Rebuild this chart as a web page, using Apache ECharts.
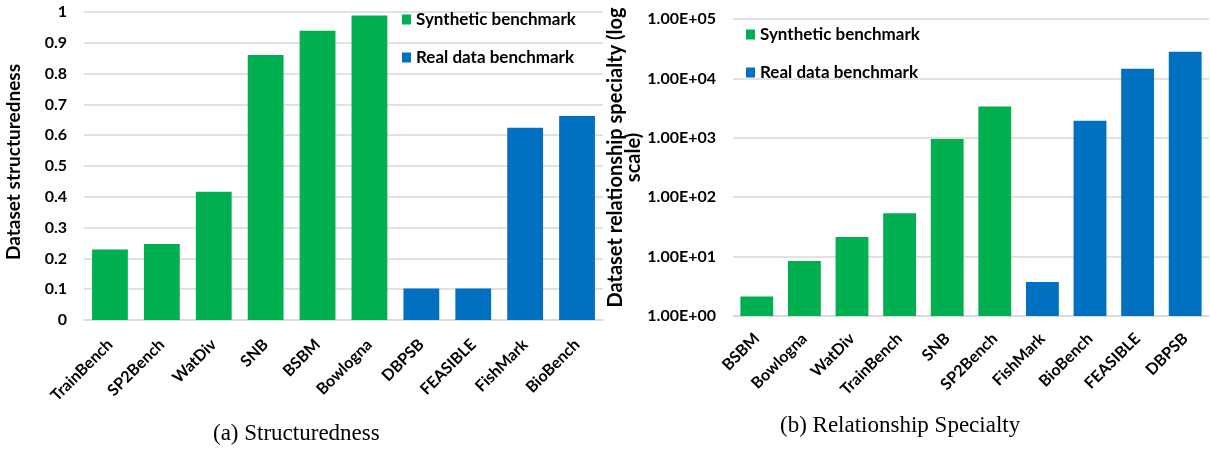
<!DOCTYPE html>
<html>
<head>
<meta charset="utf-8">
<script src="https://cdn.jsdelivr.net/npm/echarts@6/dist/echarts.min.js"></script>
<style>
html,body{margin:0;padding:0;background:#fff;}
#chart{width:1210px;height:450px;}
</style>
</head>
<body>
<div id="chart"></div>
<script>
// ---- Data ----
const seriesNames = ['Synthetic benchmark', 'Real data benchmark'];

const structCategories = ['TrainBench', 'SP2Bench', 'WatDiv', 'SNB', 'BSBM', 'Bowlogna', 'DBPSB', 'FEASIBLE', 'FishMark', 'BioBench'];
const structValues = [0.229, 0.247, 0.416, 0.86, 0.939, 0.989, 0.102, 0.102, 0.624, 0.662];
const structKinds = [0, 0, 0, 0, 0, 0, 1, 1, 1, 1];

const specCategories = ['BSBM', 'Bowlogna', 'WatDiv', 'TrainBench', 'SNB', 'SP2Bench', 'FishMark', 'BioBench', 'FEASIBLE', 'DBPSB'];
const specValues = [2.12, 8.45, 21.4, 53.7, 950, 3375, 3.74, 1935, 14550, 28150];
const specKinds = [0, 0, 0, 0, 0, 0, 1, 1, 1, 1];

const structTicks = [0, 0.1, 0.2, 0.3, 0.4, 0.5, 0.6, 0.7, 0.8, 0.9, 1];
const specTicks = ['1.00E+00', '1.00E+01', '1.00E+02', '1.00E+03', '1.00E+04', '1.00E+05'];

const captions = ['(a) Structuredness', '(b) Relationship Specialty'];

// ---- Styles ----
const colors = ['#00B050', '#0070C0'];
const FONT = 'Lato, "Open Sans", sans-serif';
const gridColor = '#D9D9D9';

function split(values, kinds, k) {
  return values.map((v, i) => kinds[i] === k ? v : '-');
}

function makeSeries(values, kinds, axisIndex) {
  return seriesNames.map((name, k) => ({
    name: name,
    type: 'bar',
    xAxisIndex: axisIndex,
    yAxisIndex: axisIndex,
    data: split(values, kinds, k),
    barGap: '-100%',
    barCategoryGap: '31%',
    itemStyle: { color: colors[k] },
    emphasis: { disabled: true }
  }));
}

function xAxisFor(gridIndex, data, margin) {
  return {
    gridIndex: gridIndex,
    type: 'category',
    data: data,
    axisLine: { show: true, lineStyle: { color: gridColor, width: 1.5 } },
    axisTick: { show: false },
    axisLabel: { rotate: 45, fontFamily: FONT, fontWeight: 'bold', fontSize: 16, color: '#000', margin: margin, interval: 0 }
  };
}

const legendBase = {
  orient: 'vertical',
  itemWidth: 9,
  itemHeight: 10,
  itemGap: 21,
  icon: 'rect',
  selectedMode: false,
  textStyle: { fontFamily: FONT, fontWeight: 'bold', fontSize: 17, color: '#000' },
  data: seriesNames
};

const option = {
  animation: false,
  backgroundColor: '#fff',
  grid: [
    { left: 84, right: 607, top: 12, bottom: 130, containLabel: false },
    { left: 733, right: 1, top: 19, bottom: 134, containLabel: false }
  ],
  legend: [
    Object.assign({}, legendBase, { left: 397, top: 6 }),
    Object.assign({}, legendBase, { left: 741, top: 21 })
  ],
  xAxis: [
    xAxisFor(0, structCategories, 22),
    xAxisFor(1, specCategories, 20)
  ],
  yAxis: [
    {
      gridIndex: 0,
      type: 'value',
      min: structTicks[0],
      max: structTicks[structTicks.length - 1],
      interval: 0.1,
      axisLine: { show: false },
      axisTick: { show: false },
      splitLine: { lineStyle: { color: gridColor, width: 1.5 } },
      axisLabel: {
        fontFamily: FONT, fontWeight: 'bold', fontSize: 16, color: '#000', margin: 17,
        formatter: v => String(Math.round(v * 10) / 10)
      },
      name: 'Dataset structuredness',
      nameLocation: 'middle',
      nameRotate: 90,
      nameGap: 61,
      nameTextStyle: { fontFamily: FONT, fontWeight: 'bold', fontSize: 19, color: '#000', padding: [0, 0, 0, 8] }
    },
    {
      gridIndex: 1,
      type: 'log',
      logBase: 10,
      min: 1,
      max: 100000,
      axisLine: { show: false },
      axisTick: { show: false },
      minorSplitLine: { show: false },
      splitLine: { lineStyle: { color: gridColor, width: 1.5 } },
      axisLabel: {
        fontFamily: FONT, fontWeight: 'bold', fontSize: 16, color: '#000', margin: 17,
        formatter: v => specTicks[Math.round(Math.log10(v))]
      },
      name: 'Dataset relationship specialty (log\nscale)',
      nameLocation: 'middle',
      nameRotate: 90,
      nameGap: 84,
      nameTextStyle: { fontFamily: FONT, fontWeight: 'bold', fontSize: 20, color: '#000', lineHeight: 18, padding: [0, 0, 0, 20] }
    }
  ],
  series: [].concat(
    makeSeries(structValues, structKinds, 0),
    makeSeries(specValues, specKinds, 1)
  ),
  graphic: [
    { type: 'text', left: 213, top: 422, style: { text: captions[0], font: '23px "Liberation Serif", "Times New Roman", serif', fill: '#000' } },
    { type: 'text', left: 780, top: 414, style: { text: captions[1], font: '23px "Liberation Serif", "Times New Roman", serif', fill: '#000' } }
  ]
};

const chart = echarts.init(document.getElementById('chart'), null, { renderer: 'canvas' });
chart.setOption(option);
</script>
</body>
</html>
